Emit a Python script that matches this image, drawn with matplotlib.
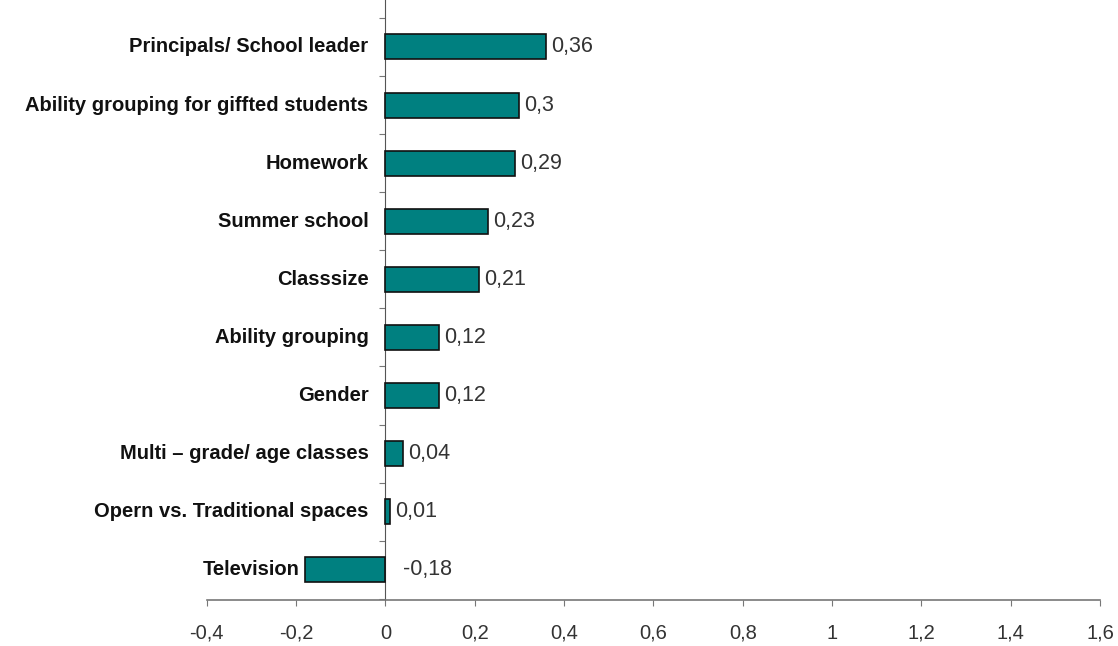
import matplotlib.pyplot as plt
import numpy as np

# data, bottom to top
labels = ['Television', 'Opern vs. Traditional spaces', 'Multi \u2013 grade/ age classes',
          'Gender', 'Ability grouping', 'Classsize', 'Summer school', 'Homework',
          'Ability grouping for giffted students', 'Principals/ School leader']
values = [-0.18, 0.01, 0.04, 0.12, 0.12, 0.21, 0.23, 0.29, 0.30, 0.36]
xticks = [-0.4, -0.2, 0, 0.2, 0.4, 0.6, 0.8, 1.0, 1.2, 1.4, 1.6]


def comma(v):
    return f'{v:g}'.replace('.', ',')


plt.rcParams['font.family'] = ['Liberation Sans', 'DejaVu Sans']

fig = plt.figure(figsize=(11.18, 6.46), dpi=100)
ax = fig.add_axes([0.185, 0.0712, 0.799, 0.929])

y = np.arange(len(values))
ax.barh(y, values, height=0.43, color='#008080', edgecolor='#111111', linewidth=1.2, zorder=3)

ax.set_xlim(-0.4, 1.6)
ax.set_ylim(-0.52, 9.81)

ax.spines['top'].set_visible(False)
ax.spines['right'].set_visible(False)
ax.spines['left'].set_position(('data', 0))
ax.spines['left'].set_color('#555555')
ax.spines['bottom'].set_color('#777777')
ax.spines['bottom'].set_linewidth(1.2)

ax.set_yticks(np.arange(-0.5, len(values), 1.0))
ax.set_yticklabels([])
ax.tick_params(axis='y', length=4, color='#777777', direction='out')

ax.set_xticks(xticks)
ax.set_xticklabels([comma(t) for t in xticks])
ax.tick_params(axis='x', length=4, color='#777777', pad=13, labelsize=14.5, labelcolor='#333333')

for yi, v, lab in zip(y, values, labels):
    # category name left of the bar start / axis
    pad = 17 if v >= 0 else 5
    ax.annotate(lab, (min(v, 0), yi), xytext=(-pad * 0.72, 0), textcoords='offset points',
                ha='right', va='center', fontsize=14.5, fontweight='bold', color='#111111')
    # value label
    off = 5 if v >= 0 else 18
    ax.annotate(comma(v), (max(v, 0), yi), xytext=(off * 0.72, 0), textcoords='offset points',
                ha='left', va='center', fontsize=15.5, color='#333333')

fig.savefig('out.png', dpi=100)
